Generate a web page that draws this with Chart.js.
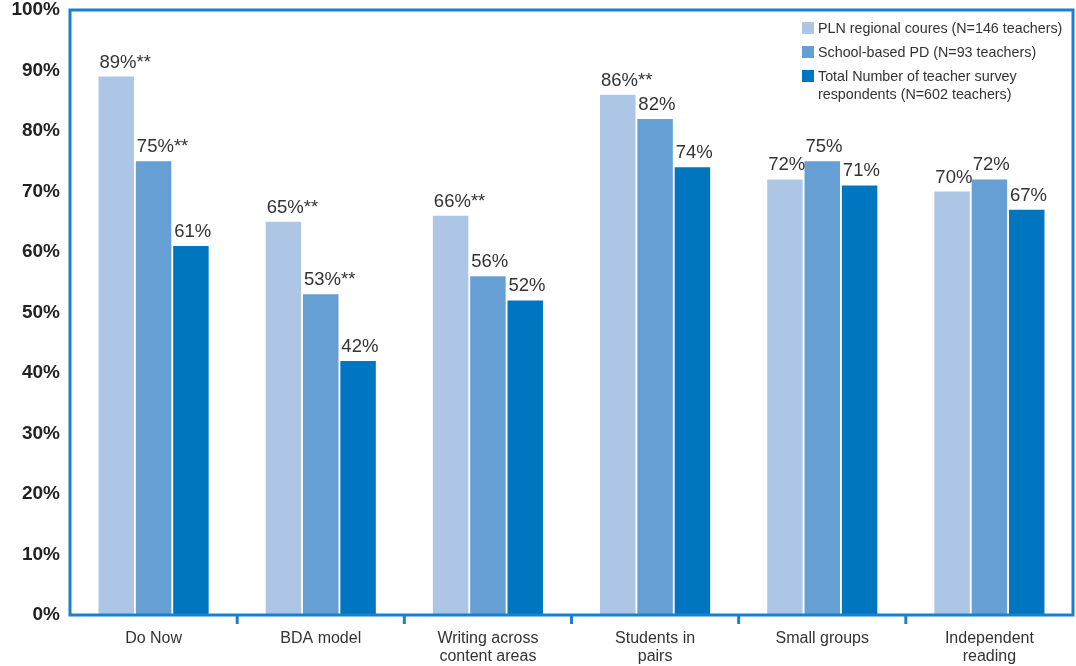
<!DOCTYPE html>
<html>
<head>
<meta charset="utf-8">
<script src="https://cdn.jsdelivr.net/npm/chart.js@4/dist/chart.umd.min.js"></script>
<style>
  html, body { margin: 0; padding: 0; background: #fff; }
  #wrap { width: 1076px; height: 666px; }
</style>
</head>
<body>
<div id="wrap"><canvas id="chart" width="1076" height="666"></canvas></div>
<script>
// chart data
const categories = [
  ['Do Now'], ['BDA model'], ['Writing across', 'content areas'],
  ['Students in', 'pairs'], ['Small groups'], ['Independent', 'reading']
];
const seriesNames = [
  ['PLN regional coures (N=146 teachers)'],
  ['School-based PD (N=93 teachers)'],
  ['Total Number of teacher survey', 'respondents (N=602 teachers)']
];
const plnValues    = [89, 65, 66, 86, 72, 70];
const schoolValues = [75, 53, 56, 82, 75, 72];
const totalValues  = [61, 42, 52, 74, 71, 67];
const plnLabels    = ['89%**', '65%**', '66%**', '86%**', '72%', '70%'];
const schoolLabels = ['75%**', '53%**', '56%', '82%', '75%', '72%'];
const totalLabels  = ['61%', '42%', '52%', '74%', '71%', '67%'];
const yTicks = [0, 10, 20, 30, 40, 50, 60, 70, 80, 90, 100];

const colors = ['#adc6e6', '#659fd4', '#0076c0'];
const frameColor = '#1a80cc';
const FONT = '"Liberation Sans", Arial, Helvetica, sans-serif';

// frame round the plot, with small ticks between categories
const framePlugin = {
  id: 'frame',
  afterDraw(chart) {
    const { ctx, chartArea: a } = chart;
    ctx.save();
    ctx.strokeStyle = frameColor;
    ctx.lineWidth = 3;
    ctx.strokeRect(a.left, a.top, a.right - a.left, a.bottom - a.top);
    const step = (a.right - a.left) / categories.length;
    for (let i = 1; i < categories.length; i++) {
      const px = a.left + step * i;
      ctx.beginPath();
      ctx.moveTo(px, a.bottom);
      ctx.lineTo(px, a.bottom + 9);
      ctx.stroke();
    }
    ctx.restore();
  }
};

// value labels, left-aligned with each bar
const valueLabels = [plnLabels, schoolLabels, totalLabels];
const labelPlugin = {
  id: 'valueLabels',
  afterDatasetsDraw(chart) {
    const { ctx } = chart;
    ctx.save();
    ctx.font = '18.5px ' + FONT;
    ctx.fillStyle = '#333';
    ctx.textAlign = 'left';
    ctx.textBaseline = 'alphabetic';
    chart.data.datasets.forEach((ds, di) => {
      chart.getDatasetMeta(di).data.forEach((bar, i) => {
        ctx.fillText(valueLabels[di][i], bar.x - bar.width / 2 + 1, bar.y - 9);
      });
    });
    ctx.restore();
  }
};

// legend in the top right corner of the plot
const legendPlugin = {
  id: 'boxLegend',
  afterDraw(chart) {
    const { ctx } = chart;
    const x0 = 802, size = 12, lineH = 18;
    let y = 22;
    ctx.save();
    ctx.font = '14.3px ' + FONT;
    ctx.textBaseline = 'middle';
    chart.data.datasets.forEach((ds, di) => {
      ctx.fillStyle = ds.backgroundColor;
      ctx.fillRect(x0, y, size, size);
      ctx.fillStyle = '#333';
      seriesNames[di].forEach((line, li) => {
        ctx.fillText(line, x0 + 16, y + 7 + li * lineH);
      });
      y += 24 + (seriesNames[di].length - 1) * lineH;
    });
    ctx.restore();
  }
};

new Chart(document.getElementById('chart'), {
  type: 'bar',
  data: {
    labels: categories,
    datasets: [
      { label: seriesNames[0].join(' '), data: plnValues,    backgroundColor: colors[0] },
      { label: seriesNames[1].join(' '), data: schoolValues, backgroundColor: colors[1] },
      { label: seriesNames[2].join(' '), data: totalValues,  backgroundColor: colors[2] }
    ]
  },
  options: {
    responsive: false,
    animation: false,
    layout: { padding: { top: 10, right: 3, left: 0, bottom: 0 } },
    categoryPercentage: 0.67,
    barPercentage: 0.95,
    plugins: {
      legend: { display: false },
      tooltip: { enabled: false }
    },
    scales: {
      x: {
        grid: { display: false, drawTicks: false },
        border: { display: false },
        ticks: {
          padding: 14,
          color: '#333',
          font: { family: FONT, size: 16, lineHeight: 1.15 },
          maxRotation: 0,
          autoSkip: false
        },
        afterFit(s) { s.height = 51; s.paddingLeft = 0; s.paddingRight = 0; }
      },
      y: {
        min: 0,
        max: 100,
        grid: { display: false, drawTicks: false },
        border: { display: false },
        afterBuildTicks(s) { s.ticks = yTicks.map(v => ({ value: v })); },
        ticks: {
          padding: 10,
          color: '#222',
          font: { family: FONT, size: 19, weight: 'bold' },
          callback: v => v + '%'
        },
        afterFit(s) { s.width = 70; s.paddingTop = 0; s.paddingBottom = 0; }
      }
    }
  },
  plugins: [framePlugin, labelPlugin, legendPlugin]
});
</script>
</body>
</html>
